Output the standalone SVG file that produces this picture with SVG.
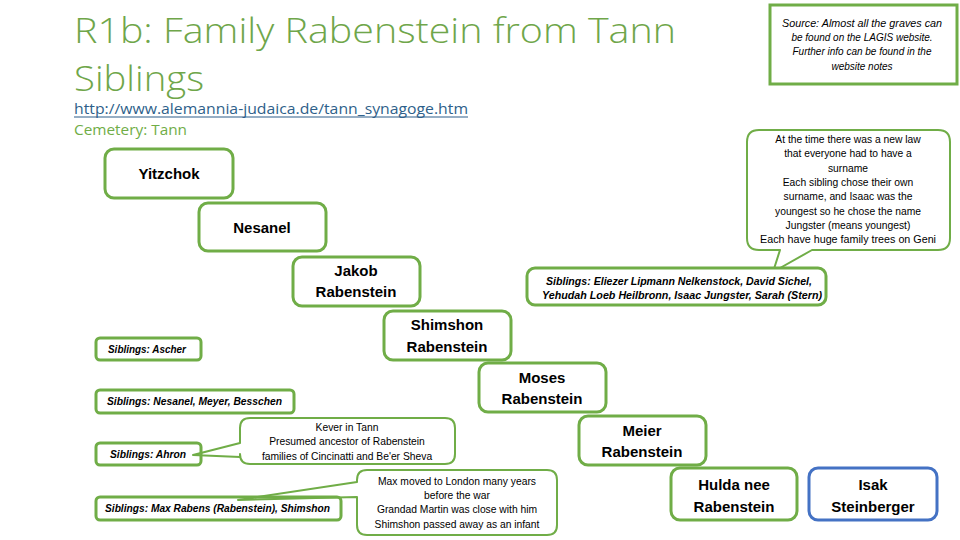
<svg xmlns="http://www.w3.org/2000/svg" width="960" height="540" viewBox="0 0 960 540">
<style>
.node{fill:#fff;stroke:#70AD47;stroke-width:3}
.blue{fill:#fff;stroke:#4472C4;stroke-width:3}
.sib{fill:none;stroke:#70AD47;stroke-width:3}
.call{fill:#fff;stroke:#70AD47;stroke-width:2;stroke-linejoin:round}
.nt{font-family:"Liberation Sans",Arial,sans-serif;font-weight:bold;font-size:15px;fill:#000;text-anchor:middle}
.st{font-family:"Liberation Sans",Arial,sans-serif;font-weight:bold;font-style:italic;font-size:10px;fill:#000}
.ct{font-family:"Liberation Sans",Arial,sans-serif;font-size:10.3px;fill:#000;text-anchor:middle}
.it{font-family:"Liberation Sans",Arial,sans-serif;font-style:italic;font-size:10px;fill:#000;text-anchor:middle}
.title{font-family:"Open Sans","Liberation Sans",sans-serif;font-weight:300;font-size:35px;fill:#6FA64A}
</style>
<rect width="960" height="540" fill="#fff"/>
<g id="header">
<text class="title" x="74" y="43" textLength="602" lengthAdjust="spacingAndGlyphs">R1b: Family Rabenstein from Tann</text>
<text class="title" x="74" y="91" textLength="130" lengthAdjust="spacingAndGlyphs">Siblings</text>
<text x="74" y="114" font-family="Open Sans, Liberation Sans, sans-serif" font-size="15" fill="#2E5F8A" textLength="394" lengthAdjust="spacingAndGlyphs">http://www.alemannia-judaica.de/tann_synagoge.htm</text>
<line x1="74" y1="117" x2="468" y2="117" stroke="#2E5F8A" stroke-width="1.2"/>
<text x="74" y="135" font-family="Open Sans, Liberation Sans, sans-serif" font-size="15" fill="#70AD47" textLength="113" lengthAdjust="spacingAndGlyphs">Cemetery: Tann</text>
</g>
<g id="source">
<rect x="770" y="5" width="187" height="79" fill="#fff" stroke="#70AD47" stroke-width="3"/>
<text class="it" x="862" y="27" textLength="160" lengthAdjust="spacingAndGlyphs">Source: Almost all the graves can</text>
<text class="it" x="862" y="41">be found on the LAGIS website.</text>
<text class="it" x="862" y="55">Further info can be found in the</text>
<text class="it" x="862" y="70">website notes</text>
</g>
<g id="callout-law">
<path class="call" d="M759,130 H938 Q950,130 950,142 V238 Q950,250 938,250 H812 L773,272 L780,250 H759 Q747,250 747,238 V142 Q747,130 759,130 Z"/>
<text class="ct" x="848" y="143">At the time there was a new law</text>
<text class="ct" x="848" y="157">that everyone had to have a</text>
<text class="ct" x="848" y="172">surname</text>
<text class="ct" x="848" y="186">Each sibling chose their own</text>
<text class="ct" x="848" y="200">surname, and Isaac was the</text>
<text class="ct" x="848" y="215">youngest so he chose the name</text>
<text class="ct" x="848" y="229">Jungster (means youngest)</text>
<text class="ct" x="848" y="243" textLength="176" lengthAdjust="spacingAndGlyphs">Each have huge family trees on Geni</text>
</g>
<g id="siblings-jakob">
<rect class="node" x="527" y="268" width="299" height="37" rx="8"/>
<text class="st" x="679" y="285" text-anchor="middle" textLength="266" lengthAdjust="spacingAndGlyphs">Siblings:   Eliezer Lipmann Nelkenstock,   David Sichel,</text>
<text class="st" x="682" y="299" text-anchor="middle" textLength="280" lengthAdjust="spacingAndGlyphs">Yehudah Loeb Heilbronn,   Isaac Jungster,   Sarah (Stern)</text>
</g>
<g id="yitzchok">
<rect class="node" x="105" y="149" width="128" height="49" rx="9"/>
<text class="nt" x="169" y="179">Yitzchok</text>
</g>
<g id="nesanel">
<rect class="node" x="199" y="203" width="127" height="48" rx="9"/>
<text class="nt" x="262" y="233">Nesanel</text>
</g>
<g id="jakob">
<rect class="node" x="293" y="257" width="127" height="49" rx="9"/>
<text class="nt" x="356" y="276">Jakob</text>
<text class="nt" x="356" y="297">Rabenstein</text>
</g>
<g id="shimshon">
<rect class="node" x="384" y="311" width="127" height="49" rx="9"/>
<text class="nt" x="447" y="330">Shimshon</text>
<text class="nt" x="447" y="352">Rabenstein</text>
</g>
<g id="moses">
<rect class="node" x="479" y="363" width="127" height="49" rx="9"/>
<text class="nt" x="542" y="383">Moses</text>
<text class="nt" x="542" y="404">Rabenstein</text>
</g>
<g id="meier">
<rect class="node" x="579" y="416" width="127" height="49" rx="9"/>
<text class="nt" x="642" y="436">Meier</text>
<text class="nt" x="642" y="457">Rabenstein</text>
</g>
<g id="hulda">
<rect class="node" x="671" y="468" width="126" height="52" rx="9"/>
<text class="nt" x="734" y="490">Hulda nee</text>
<text class="nt" x="734" y="512">Rabenstein</text>
</g>
<g id="isak">
<rect class="blue" x="809" y="468" width="128" height="52" rx="9"/>
<text class="nt" x="873" y="490">Isak</text>
<text class="nt" x="873" y="512">Steinberger</text>
</g>
<g id="callout-kever">
<path class="call" d="M250,418 H445 Q455,418 455,428 V454 Q455,464 445,464 H250 Q240,464 240,454 V457 L193,455 L240,443 V428 Q240,418 250,418 Z"/>
<text class="ct" x="347" y="431">Kever in Tann</text>
<text class="ct" x="347" y="445">Presumed ancestor of Rabenstein</text>
<text class="ct" x="347" y="460">families of Cincinatti and Be'er Sheva</text>
</g>
<g id="callout-max">
<path class="call" d="M367,470 H547 Q557,470 557,480 V525 Q557,535 547,535 H367 Q357,535 357,525 V497 L238,500 L357,482 V480 Q357,470 367,470 Z"/>
<text class="ct" x="457" y="485">Max moved to London many years</text>
<text class="ct" x="457" y="499">before the war</text>
<text class="ct" x="457" y="513">Grandad Martin was close with him</text>
<text class="ct" x="457" y="528">Shimshon passed away as an infant</text>
</g>
<g id="siblings-shimshon">
<rect class="sib" x="96" y="338" width="105" height="22" rx="4"/>
<text class="st" x="108" y="353" textLength="78" lengthAdjust="spacingAndGlyphs">Siblings: Ascher</text>
</g>
<g id="siblings-moses">
<rect class="sib" x="96" y="390" width="198" height="23" rx="4"/>
<text class="st" x="107" y="405" textLength="175" lengthAdjust="spacingAndGlyphs">Siblings: Nesanel, Meyer, Besschen</text>
</g>
<g id="siblings-meier">
<rect class="sib" x="96" y="443" width="105" height="22" rx="4"/>
<text class="st" x="110" y="458" textLength="76" lengthAdjust="spacingAndGlyphs">Siblings: Ahron</text>
</g>
<g id="siblings-hulda">
<rect class="sib" x="96" y="497" width="245" height="23" rx="4"/>
<text class="st" x="105" y="512" textLength="225" lengthAdjust="spacingAndGlyphs">Siblings: Max Rabens (Rabenstein), Shimshon</text>
</g>
<g id="connectors"></g>
</svg>
